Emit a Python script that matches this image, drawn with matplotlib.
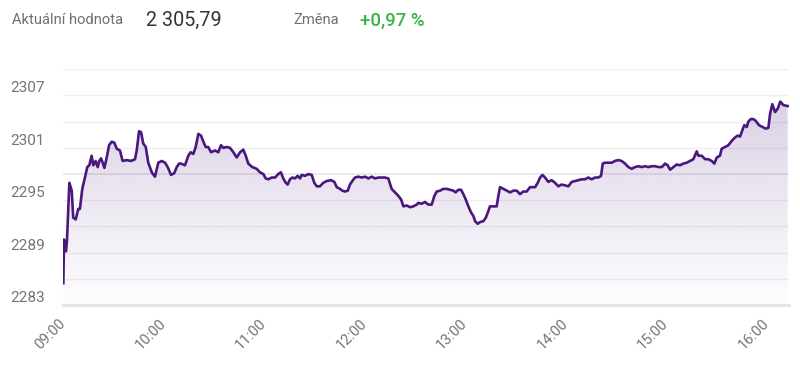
import matplotlib
matplotlib.use("Agg")
import matplotlib.pyplot as plt
import numpy as np

plt.rcParams['font.family'] = ['Roboto', 'DejaVu Sans']

# ---- data: minutes after 09:00 and index value ----
minutes = [0.2, 0.6, 1.8, 2.4, 3.8, 5.2, 6.1, 7.6, 9.1, 10.1, 11.5, 13.1, 14.5, 15.7, 17.1, 18.1,
           19.5, 20.7, 21.7, 22.7, 23.7, 24.7, 26.1, 27.5, 29.1, 30.6, 32.1, 34.0, 35.6, 38.0,
           40.6, 43.0, 44.0, 45.4, 46.6, 47.9, 49.4, 50.9, 53.0, 54.9, 56.9, 58.9, 60.9, 62.5,
           64.5, 66.4, 67.9, 69.3,
           70.4, 72.8, 74.8, 76.2, 77.8, 79.2, 80.8, 82.4, 83.8, 85.2, 86.7, 88.4, 90.7, 92.7,
           94.3, 95.7, 97.7, 99.7, 101.7, 103.7, 105.7, 107.6, 109.1, 110.6, 113.0, 115.6, 117.6,
           119.6, 121.0, 122.6, 124.6, 126.6, 128.5, 130.1, 131.5, 133.0, 134.1, 135.5, 136.9,
           138.5, 140.1, 141.5,
           142.5, 144.5, 146.4, 148.5, 150.0, 151.5, 153.4, 155.4, 157.4, 160.0, 162.0, 163.4,
           165.4, 166.7, 168.4, 170.0, 171.3, 172.7, 174.3, 176.3, 178.3, 180.3, 182.3, 184.3,
           186.3, 188.2, 190.3, 192.2, 194.2, 196.2, 198.2, 200.2, 201.8, 203.2, 205.2, 207.2,
           209.1, 211.2,
           212.1, 214.1, 216.1, 218.1, 220.1, 221.7, 223.1, 225.1, 227.0, 229.1, 231.0, 233.0,
           234.4, 236.0, 237.6, 239.0, 240.4, 242.0, 243.6, 245.0, 246.0, 247.6, 249.0, 250.9,
           252.4, 253.6, 254.9, 256.9, 258.9, 259.9, 260.9, 262.9, 264.9, 266.9, 268.8, 270.9,
           272.8, 274.8, 276.8, 278.8, 280.8,
           281.8, 283.4, 284.8, 286.2, 287.8, 289.7, 291.7, 293.7, 295.7, 297.7, 299.7, 301.7,
           303.7, 305.7, 307.6, 309.7, 311.6, 313.6, 315.6, 317.6, 319.6, 321.2, 322.2, 323.6,
           325.5, 327.6, 329.5, 331.5, 333.5, 335.5, 337.5, 339.5, 341.5, 343.5, 345.5, 347.5,
           349.5, 351.5, 353.4,
           355.4, 357.5, 359.4, 361.0, 362.4, 364.4, 366.4, 368.3, 370.3, 372.3, 374.3, 376.3,
           378.3, 379.3, 381.3, 383.3, 385.2, 387.3, 388.8, 390.3, 392.2, 393.2, 395.2, 397.2,
           399.2, 401.2, 402.8, 404.2, 405.5, 406.7, 408.2, 409.1, 410.6, 412.1, 413.5, 415.5,
           417.5, 419.5, 421.1, 422.1, 423.4, 425.1, 426.7, 428.2, 430.0, 432.6]
prices = [2285.5, 2290.5, 2289.15, 2290.5, 2297.0, 2296.1, 2293.0, 2292.8, 2294.0, 2294.0,
          2296.3, 2297.6, 2298.8, 2299.0, 2300.1, 2299.0, 2299.5, 2298.8, 2299.5, 2299.8, 2299.3,
          2298.7, 2299.9, 2301.3, 2301.7, 2301.6, 2300.9, 2300.7, 2299.5, 2299.6, 2299.5, 2299.7,
          2300.7, 2302.9, 2302.8, 2301.5, 2301.1, 2299.3, 2298.2, 2297.7, 2299.3, 2299.5, 2299.3,
          2298.8, 2297.9, 2298.1, 2298.8, 2299.2,
          2299.2, 2299.0, 2300.1, 2300.5, 2300.3, 2301.1, 2302.6, 2302.4, 2301.7, 2301.1, 2301.1,
          2300.5, 2300.7, 2300.5, 2301.3, 2301.0, 2301.1, 2301.0, 2300.5, 2299.9, 2300.5, 2300.8,
          2300.1, 2299.2, 2298.8, 2298.6, 2298.2, 2298.0, 2297.5, 2297.4, 2297.6, 2297.6, 2298.0,
          2298.2, 2297.5, 2297.0, 2296.8, 2297.4, 2297.6, 2297.5, 2297.8, 2297.5,
          2297.9, 2297.8, 2298.0, 2297.9, 2297.0, 2296.6, 2296.6, 2297.0, 2297.2, 2297.3, 2297.1,
          2296.5, 2296.3, 2296.1, 2296.0, 2296.1, 2296.8, 2297.2, 2297.6, 2297.7, 2297.6, 2297.7,
          2297.5, 2297.7, 2297.5, 2297.6, 2297.6, 2297.6, 2297.5, 2296.3, 2295.9, 2295.5, 2295.1,
          2294.3, 2294.4, 2294.2, 2294.3, 2294.5,
          2294.7, 2294.6, 2294.8, 2294.5, 2294.5, 2295.5, 2296.0, 2296.1, 2296.3, 2296.3, 2296.2,
          2296.1, 2295.9, 2296.2, 2296.2, 2295.7, 2295.1, 2294.3, 2293.6, 2293.2, 2292.6, 2292.3,
          2292.5, 2292.6, 2293.0, 2293.6, 2294.3, 2294.3, 2294.3, 2295.5, 2296.5, 2296.3, 2296.1,
          2295.9, 2296.1, 2296.1, 2295.7, 2296.0, 2296.0, 2296.5, 2296.5,
          2296.5, 2297.0, 2297.6, 2297.9, 2297.6, 2297.1, 2297.3, 2297.0, 2296.6, 2296.8, 2296.7,
          2296.6, 2297.1, 2297.2, 2297.3, 2297.4, 2297.4, 2297.6, 2297.4, 2297.6, 2297.6, 2297.8,
          2299.2, 2299.3, 2299.3, 2299.3, 2299.5, 2299.6, 2299.5, 2299.2, 2298.8, 2298.6, 2298.8,
          2298.9, 2298.8, 2298.9, 2298.8, 2298.9, 2298.9,
          2298.8, 2298.8, 2299.2, 2299.0, 2298.5, 2298.8, 2299.1, 2299.0, 2299.2, 2299.3, 2299.5,
          2299.7, 2300.6, 2300.1, 2300.1, 2299.7, 2299.7, 2299.5, 2299.2, 2299.9, 2300.1, 2300.9,
          2301.1, 2301.3, 2301.8, 2302.2, 2302.4, 2302.3, 2303.0, 2303.6, 2303.4, 2304.0, 2304.3,
          2304.3, 2304.1, 2303.6, 2303.4, 2303.2, 2303.3, 2304.9, 2306.0, 2305.1, 2305.5, 2306.3,
          2305.9, 2305.79]

hour_ticks = [0, 60, 120, 180, 240, 300, 360, 420]
hour_labels = ["09:00", "10:00", "11:00", "12:00", "13:00", "14:00", "15:00", "16:00"]
grid_values = list(range(2283, 2311, 3))
label_values = [2283, 2289, 2295, 2301, 2307]

header_label = "Aktuální hodnota"
header_value = "2 305,79"
change_label = "Změna"
change_value = "+0,97 %"

# ---- figure ----
W, H = 800, 371
fig = plt.figure(figsize=(8, 3.71), dpi=100)
ax = fig.add_axes([63 / W, 1 - 305 / H, (789 - 63) / W, (305 - 69.3) / H])

x = np.array(minutes)
y = np.array(prices)
ymin, ymax = 2283, 2310
xmax = 433.4

ax.set_xlim(0, xmax)
ax.set_ylim(ymin, ymax)

# grid lines
for v in grid_values:
    if v == 2283:
        continue
    col = '#e6e6ed' if v == 2298 else '#eeeef3'
    lw = 1.3 if v == 2298 else 1.0
    ax.axhline(v, color=col, lw=lw, zorder=0)
ax.axhline(2283, color='#e6e6ee', lw=2.2, zorder=0, clip_on=False)

# gradient fill under the line
poly = ax.fill_between(x, y, ymin, facecolor='none', edgecolor='none')
grad = np.linspace(0.0, 1.0, 256).reshape(-1, 1)
rgba = np.zeros((256, 1, 4))
rgba[..., 0] = 74 / 255
rgba[..., 1] = 26 / 255
rgba[..., 2] = 126 / 255
rgba[..., 3] = 0.015 + 0.19 * grad[:, :] ** 1.1
im = ax.imshow(rgba, aspect='auto', origin='lower',
               extent=[0, xmax, ymin, 2307], zorder=1, interpolation='bilinear')
path = poly.get_paths()[0]
im.set_clip_path(path, transform=ax.transData)

ax.plot(x, y, color='#4a177f', lw=1.9, zorder=3, solid_joinstyle='round')

for s in ax.spines.values():
    s.set_visible(False)

ax.set_yticks(grid_values)
ax.set_yticklabels([str(v) if v in label_values else "" for v in grid_values])
ax.tick_params(axis='y', length=0, pad=13, labelsize=11, labelcolor='#74747c')
for t in ax.get_yticklabels():
    t.set_va('bottom')

ax.set_xticks(hour_ticks)
ax.set_xticklabels(hour_labels)
ax.tick_params(axis='x', length=0, pad=12, labelsize=10.5, labelcolor='#74747c')
for t in ax.get_xticklabels():
    t.set_rotation(45)
    t.set_ha('right')
    t.set_va('center')
    t.set_rotation_mode('anchor')

# header
fig.text(11.5 / W, 1 - 20.5 / H, header_label, fontsize=10.6, color='#707070', va='center', ha='left')
fig.text(146.5 / W, 1 - 20.5 / H, header_value, fontsize=14.2, color='#333333', va='center', ha='left')
fig.text(293 / W, 1 - 20.5 / H, change_label, fontsize=10.6, color='#707070', va='center', ha='left')
fig.text(360 / W, 1 - 20.5 / H, change_value, fontsize=13.4, color='#35b544', va='center', ha='left',
         fontweight='medium')

fig.savefig('out.png', dpi=100, facecolor='white')
